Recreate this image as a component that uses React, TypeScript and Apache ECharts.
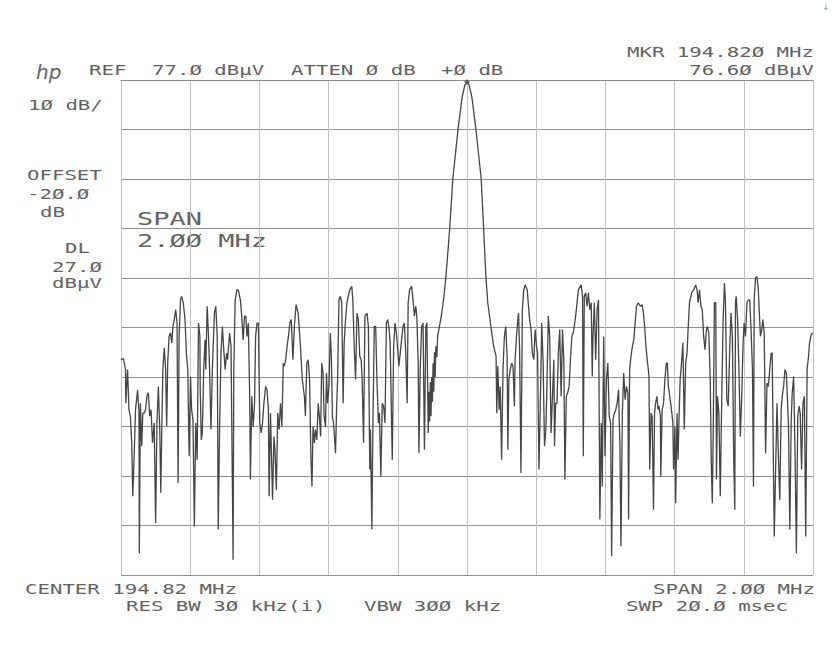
import React, { useEffect, useRef } from "react";
import * as echarts from "echarts";

// Analyzer settings
const REF_LEVEL = 77.0; // dBμV, top graticule line
const DB_PER_DIV = 10;
const DIVISIONS = 10;
const HALF_SPAN_KHZ = 1000; // span 2.00 MHz around 194.82 MHz
const DIV_KHZ = 200;

// Trace readings: [offset from centre in kHz, level in dBμV]
const traceLeft: [number, number][] = [
  [-1000, 20.5], [-993, 20.7], [-987, 18.5], [-986, 11.7], [-981, 18.5], [-977, 10.4], [-973, 9.1],
  [-969, 3.7], [-966, -7.1], [-962, 1.0], [-958, 10.4], [-952, 14.4], [-948, 9.7], [-947, -18.6],
  [-944, 11.7], [-940, 3.0], [-937, 9.7], [-933, 9.7], [-929, 10.4], [-925, 13.1], [-921, 13.8],
  [-917, 9.1], [-913, 10.4], [-909, 3.7], [-904, 7.7], [-900, -12.5], [-896, 7.7], [-892, 15.1],
  [-888, 6.4], [-885, -6.4], [-882, 7.0], [-879, 18.5], [-875, 22.9], [-871, 18.5], [-868, 7.0],
  [-865, 19.8], [-861, 25.2], [-857, 25.9], [-853, 23.9], [-850, 27.2], [-846, 28.6], [-842, 30.6],
  [-838, 27.9], [-835, -4.4], [-832, 25.2], [-828, 32.6], [-825, 33.3], [-820, 32.0], [-815, 28.6],
  [-811, 21.8], [-807, 18.5], [-803, 1.0], [-799, 17.1], [-796, 10.4], [-792, 8.4], [-788, -13.2],
  [-784, 7.7], [-780, 0.3], [-776, 27.9], [-772, 25.2], [-771, 14.4], [-768, 4.3], [-765, 5.7],
  [-761, 18.5], [-757, 24.5], [-755, 18.5], [-751, 31.3], [-747, 25.2], [-744, 18.5], [-740, 6.4],
  [-736, 18.5], [-730, 29.9], [-726, 31.3], [-722, 25.2], [-719, -13.8], [-715, 7.0], [-711, 21.8],
  [-707, 27.2], [-703, 22.5], [-699, 18.5], [-695, 21.8], [-692, 20.5], [-686, 25.9], [-682, 23.2],
  [-678, -5.1], [-676, -19.9], [-674, 18.5], [-670, 32.6], [-665, 34.6], [-661, 34.6], [-655, 32.6],
  [-651, 29.3], [-647, 24.5], [-643, 29.3], [-639, 29.3], [-636, 25.2], [-632, 27.9], [-628, 13.1],
  [-626, -3.7], [-622, 13.1], [-618, 7.0], [-614, 11.7], [-611, 25.2], [-607, 27.9], [-603, 27.9],
  [-599, 7.7], [-595, 5.7], [-591, 7.7], [-587, 11.7], [-582, 15.1], [-578, 14.4], [-574, 10.4],
  [-572, -7.1], [-568, 9.7], [-562, -7.8], [-558, 5.0], [-555, 2.3], [-551, -5.8], [-547, 9.7],
  [-543, 6.4], [-539, 11.7], [-535, 7.0], [-531, 19.8], [-528, 19.2], [-524, 20.5], [-520, 23.2],
  [-516, 25.2], [-512, 27.9],
];

const traceMidLeft: [number, number][] = [
  [-508, 28.6], [-503, 20.5], [-499, 27.2], [-494, 31.6], [-488, 29.9], [-482, 23.9], [-476, 16.5],
  [-470, 13.1], [-467, 9.1], [-463, 19.8], [-459, 20.5], [-455, 16.5], [-451, 0.3], [-448, -5.1],
  [-445, 7.0], [-441, 3.7], [-438, 6.4], [-434, 4.3], [-430, 11.7], [-426, 8.4], [-423, 5.0],
  [-420, 19.8], [-416, 17.8], [-413, 9.1], [-409, 7.0], [-406, 17.8], [-403, 11.7], [-399, 15.1],
  [-395, 25.9], [-392, 21.2], [-389, 9.1], [-386, 7.7], [-383, 5.0], [-380, 1.6], [-377, 10.4],
  [-374, 16.5], [-370, 32.6], [-366, 33.3], [-362, 32.0], [-358, 11.7], [-355, 23.9], [-351, 28.6],
  [-347, 32.0], [-339, 34.6], [-333, 35.3], [-330, 32.6], [-326, 23.2], [-322, 16.5], [-318, 29.9],
  [-314, 28.6], [-310, 21.2], [-306, 20.5], [-303, 16.5], [-299, 3.7], [-295, 29.3], [-289, 29.9],
  [-285, 27.2], [-281, -1.7], [-279, 6.4], [-275, -13.8], [-272, 7.0], [-268, 27.2], [-264, 27.2],
  [-260, 15.8], [-256, 7.7], [-253, 9.7], [-249, -3.1], [-245, 11.7], [-241, 11.1], [-237, 7.7],
  [-233, 27.9], [-229, 28.6], [-226, 27.2], [-222, 23.9], [-219, 11.7], [-216, 0.3], [-212, 23.2],
  [-208, 27.9], [-204, 25.9], [-200, 22.5], [-197, 19.2], [-193, 21.8], [-189, 24.5], [-185, 27.2],
  [-181, 27.9], [-177, 21.8], [-173, 11.7], [-170, 32.0], [-166, 34.6], [-160, 35.3], [-156, 32.6],
  [-152, 29.3], [-148, 31.3], [-145, 29.3], [-141, 19.8], [-139, 1.6], [-135, 19.2], [-131, 27.2],
  [-127, 27.9], [-123, 2.3], [-119, 27.2], [-116, 27.9], [-112, 5.7], [-110, 14.0], [-108, 8.0],
  [-106, 16.0], [-104, 9.1], [-102, 17.0], [-100, 12.0], [-98, 19.8], [-96, 14.0], [-94, 22.0],
  [-92, 17.0], [-90, 23.2], [-87, 21.0], [-85, 25.2],
];

const carrierPeak: [number, number][] = [
  [-75, 29.0], [-67, 33.0], [-60, 38.0], [-50, 47.0], [-41, 57.0], [-26, 67.0], [-14, 73.6],
  [-6, 76.0], [0, 76.6], [6, 76.0], [14, 73.6], [26, 67.0], [41, 57.0], [48, 47.0], [54, 38.0],
];

const traceMidRight: [number, number][] = [
  [60, 32.0], [69, 27.2], [77, 23.2], [84, 21.2], [86, 9.7], [89, 19.2], [93, 10.4], [96, 15.1],
  [100, 0.3], [104, 18.5], [108, 25.2], [112, 27.2], [116, 21.2], [118, 2.3], [121, 16.5], [125, 18.5],
  [129, 19.8], [133, 19.2], [137, 11.1], [139, 20.5], [143, 25.2], [147, 28.6], [149, 29.9], [152, 22.5],
  [156, -2.4], [160, 30.6], [164, 34.6], [168, 35.6], [174, 34.6], [177, 32.0], [181, 28.6], [185, 26.6],
  [189, 21.8], [193, 20.5], [197, 26.6], [201, 23.2], [204, 21.8], [208, -1.7], [212, 11.7], [216, 27.9],
  [220, 19.8], [224, 3.0], [228, 6.4], [231, 15.1], [235, 29.3], [239, 25.2], [243, 5.7], [247, 13.1],
  [251, 20.5], [253, 3.0], [256, 11.7], [260, 11.7], [264, 21.8], [268, 26.6], [272, 13.1], [276, 26.6],
  [280, 19.8], [283, -3.7], [287, 13.1], [291, 13.8], [295, 15.1], [299, 20.5], [303, 25.2], [307, 25.9],
  [310, 27.2], [314, 29.3], [318, 32.0], [322, 34.6], [330, 35.6], [334, 33.3], [336, 1.0], [339, 33.3],
  [343, 34.0], [347, 31.3], [351, 34.0], [355, 30.6], [359, 32.0], [362, 17.1], [364, 25.2], [368, 32.0],
  [372, 20.5], [376, 30.6], [380, 32.6], [384, -11.8], [388, 7.7], [391, -5.1], [395, 25.2], [399, 1.0],
  [403, 16.5], [407, 19.8], [411, 9.1], [415, 7.7], [418, -19.2], [422, 8.4], [426, 9.7], [430, 10.4],
  [434, 11.7], [438, 14.4], [442, 3.0], [445, -17.2], [449, 9.7], [453, 17.8], [457, 12.4], [461, 15.1],
  [465, 13.8], [467, -11.8], [470, 18.5], [474, 21.2], [478, 23.2], [482, 24.5], [486, 27.9], [490, 31.3],
  [495, 32.0], [501, 31.3],
];

const traceRight: [number, number][] = [
  [506, 31.6], [510, 29.9], [514, 26.6], [518, 22.5], [522, 19.8], [526, 17.1], [528, -1.7], [532, 9.7],
  [535, 9.1], [539, -9.8], [542, 9.7], [545, 11.7], [549, 13.1], [552, 10.4], [555, 11.1], [559, 9.1],
  [560, -3.1], [564, 10.4], [568, 11.7], [572, 16.5], [576, 19.8], [579, 19.8], [582, 15.1], [586, 13.1],
  [591, 10.4], [595, 7.7], [597, -1.7], [601, 7.0], [603, -8.5], [607, 9.7], [610, 0.3], [613, 9.1],
  [616, 16.5], [620, 19.8], [624, 23.9], [628, 6.4], [632, 19.8], [636, 21.8], [639, 26.6], [643, 32.0],
  [649, 34.0], [655, 34.6], [661, 35.6], [665, 34.6], [668, 32.0], [672, 34.6], [676, 31.3], [680, 30.6],
  [684, 25.2], [688, 22.5], [692, 26.6], [695, 27.2], [699, 25.9], [703, 16.5], [706, -0.4], [709, -8.5],
  [712, 8.4], [715, 32.0], [719, 32.0], [721, -3.7], [724, 13.1], [728, 9.7], [732, -7.1], [736, 11.7],
  [740, 27.9], [744, 36.0], [747, 32.0], [751, 12.4], [755, 11.1], [759, 21.8], [763, 29.9], [767, 25.2],
  [771, 0.3], [774, -9.8], [776, 32.0], [778, 33.3], [782, 28.6], [786, 18.5], [790, 5.0], [794, 13.1],
  [798, 23.9], [801, 27.9], [805, 25.2], [809, 32.0], [813, 32.6], [817, 32.6], [821, 26.6], [825, 18.5],
  [828, -5.1], [830, 32.6], [834, 37.0], [838, 37.3], [842, 34.6], [848, 25.2], [852, 26.6], [855, 28.6],
  [859, 25.9], [863, 1.6], [867, 15.8], [871, 15.1], [875, 18.5], [879, 21.8], [882, 21.8], [888, -15.2],
  [892, -1.7], [896, 11.7], [900, 1.0], [904, -7.8], [908, 10.4], [911, 13.1], [915, 15.1], [919, 18.5],
  [923, 17.8], [929, 7.7], [933, -13.8], [937, 8.4], [940, 13.8], [944, 17.1], [948, 2.3], [952, -18.6],
  [956, 9.1], [960, 11.1], [963, 9.7], [967, -1.7], [971, 11.7], [975, 13.1], [979, -15.2], [983, 18.5],
  [987, 21.2], [990, 23.9], [995, 25.6], [1000, 25.9],
];

const markerReading: [number, number] = [0, 76.6];

const MONO = "'DejaVu Sans Mono', 'Liberation Mono', monospace";
const TEXT_COLOR = "#626262";

function label(text: string, x: number, y: number, align: string = "left", size = 14, sx = 1.48) {
  return {
    type: "text",
    x,
    y,
    scaleX: sx,
    silent: true,
    style: {
      text,
      fill: TEXT_COLOR,
      font: `${size}px ${MONO}`,
      textAlign: align,
      textVerticalAlign: "middle",
    },
  };
}

export default function App() {
  const ref = useRef<HTMLDivElement>(null);

  useEffect(() => {
    if (!ref.current) return;
    const chart = echarts.init(ref.current, undefined, { renderer: "svg" });
    const toRel = (p: [number, number]) => [p[0], +(p[1] - REF_LEVEL).toFixed(2)];
    const trace = [...traceLeft, ...traceMidLeft, ...carrierPeak, ...traceMidRight, ...traceRight].map(toRel);

    chart.setOption({
      animation: false,
      backgroundColor: "#ffffff",
      grid: { left: 121, top: 80, width: 692, height: 495, containLabel: false },
      xAxis: {
        type: "value",
        min: -HALF_SPAN_KHZ,
        max: HALF_SPAN_KHZ,
        interval: DIV_KHZ,
        axisLabel: { show: false },
        axisTick: { show: false },
        axisLine: { show: true, lineStyle: { color: "#8c8c8c", width: 1 } },
        splitLine: { show: true, lineStyle: { color: "#c2c2c2", width: 1 } },
      },
      yAxis: {
        type: "value",
        min: -DB_PER_DIV * DIVISIONS,
        max: 0,
        interval: DB_PER_DIV,
        axisLabel: { show: false },
        axisTick: { show: false },
        axisLine: { show: false },
        splitLine: { show: true, lineStyle: { color: "#8f8f8f", width: 1 } },
      },
      series: [
        {
          type: "line",
          data: trace,
          showSymbol: false,
          symbol: "none",
          lineStyle: { color: "#454545", width: 1.3 },
          z: 3,
        },
        {
          type: "scatter",
          data: [toRel(markerReading)],
          symbol: "diamond",
          symbolSize: 6,
          itemStyle: { color: "#555555" },
          z: 4,
        },
      ],
      graphic: [
        {
          type: "text",
          x: 36,
          y: 72,
          silent: true,
          style: {
            text: "hp",
            fill: TEXT_COLOR,
            font: "italic 20px 'DejaVu Sans'",
            textAlign: "left",
            textVerticalAlign: "middle",
          },
        },
        label("REF", 89, 70),
        label("77.Ø dBμV", 152, 70),
        label("ATTEN Ø dB", 291, 70),
        label("+Ø dB", 441, 70),
        label("MKR 194.82Ø MHz", 814, 52, "right"),
        label("76.6Ø dBμV", 814, 70, "right"),
        label("1Ø dB/", 28, 105),
        label("OFFSET", 27, 175),
        label("-2Ø.Ø", 27, 194),
        label("dB", 40, 212),
        label("DL", 65, 248),
        label("27.Ø", 52, 267),
        label("dBμV", 52, 283),
        label("SPAN", 137, 219, "left", 18, 1.5),
        label("2.ØØ MHz", 137, 241, "left", 18, 1.5),
        label("CENTER 194.82 MHz", 25, 589),
        label("RES BW 3Ø kHz(i)", 126, 606),
        label("VBW 3ØØ kHz", 364, 606),
        label("SPAN 2.ØØ MHz", 815, 589, "right"),
        label("SWP 2Ø.Ø msec", 788, 606, "right"),
        {
          type: "text",
          x: 826,
          y: 7,
          silent: true,
          style: { text: "↓", fill: "#9a9a9a", font: "9px 'DejaVu Sans'", textAlign: "center", textVerticalAlign: "middle" },
        },
      ],
    });

    return () => chart.dispose();
  }, []);

  return (
    <div
      ref={ref}
      style={{ position: "fixed", left: 0, top: 0, width: 835, height: 650, background: "#fff" }}
    />
  );
}
